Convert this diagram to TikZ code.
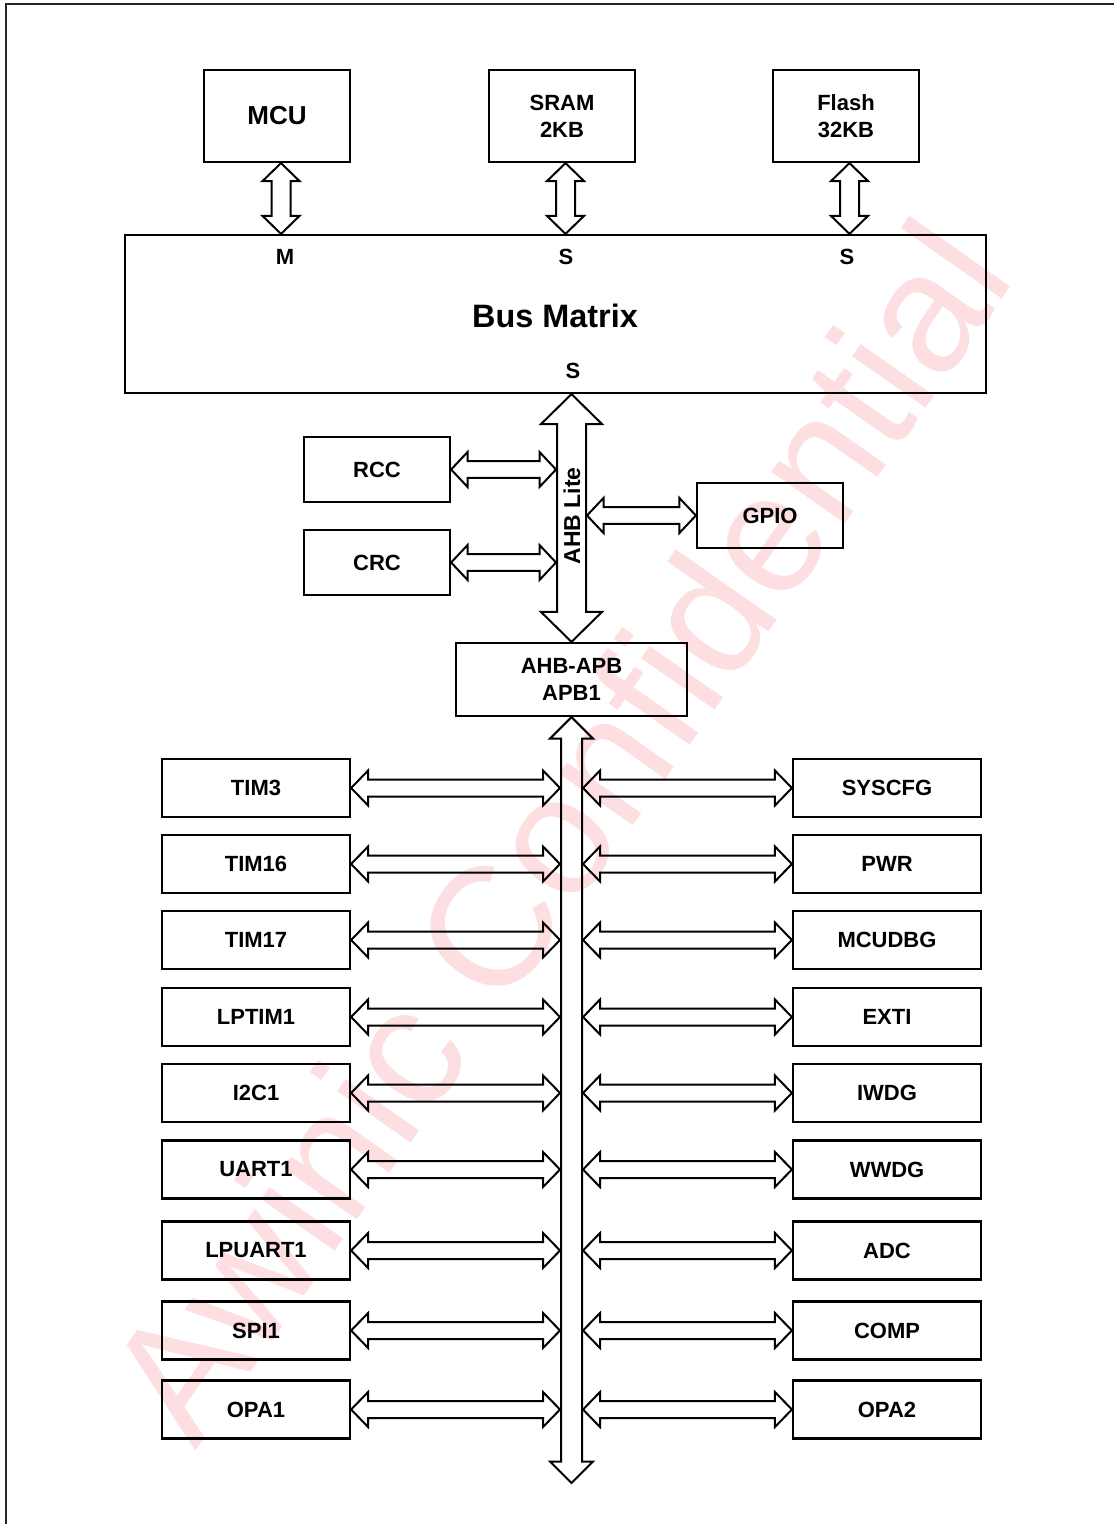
\documentclass[tikz,border=0pt]{standalone}
\usepackage{fontspec}
\setmainfont{Liberation Sans}
\usetikzlibrary{calc}
\definecolor{wmpink}{RGB}{253,223,225}

% Hollow double-headed bus arrow, horizontal: left tip, right tip,
% half shaft width, half head width, head length
\newcommand\hfat[5]{%
  \draw[fat] (#1) -- ++(#5,-#4) -- ++(0,#4-#3) -- ($(#2)+(-#5,-#3)$)
    -- ++(0,#3-#4) -- (#2) -- ++(-#5,#4) -- ++(0,#3-#4)
    -- ($(#1)+(#5,#3)$) -- ++(0,#4-#3) -- cycle;}
% Same, vertical: top tip, bottom tip, ...
\newcommand\vfat[5]{%
  \draw[fat] (#1) -- ++(-#4,#5) -- ++(#4-#3,0) -- ($(#2)+(-#3,-#5)$)
    -- ++(#3-#4,0) -- (#2) -- ++(#4,-#5) -- ++(#3-#4,0)
    -- ($(#1)+(#3,#5)$) -- ++(#4-#3,0) -- cycle;}

\begin{document}
\begin{tikzpicture}[x=0.5pt,y=-0.5pt,
  fat/.style={draw=black, line width=1pt, line join=miter},
  box/.style={draw=black, line width=1.1pt, inner sep=0pt, align=center,
    font=\bfseries\fontsize{11}{13.5}\selectfont},
  topbox/.style={box, minimum width=73pt, minimum height=46pt},
  midbox/.style={box, minimum width=73pt, minimum height=32.5pt},
  pbox/.style={box, minimum width=94pt, minimum height=29pt},
  port/.style={inner sep=0pt, font=\bfseries\fontsize{11}{13}\selectfont}]
\useasboundingbox (0,0) rectangle (1113,1524);

% watermark
\node[rotate=55, anchor=base west, inner sep=0pt, text=wmpink,
  font=\fontsize{85}{100}\selectfont] (wm) at (195,1452) {Awinic Confidential};

% page frame
\draw[line width=1pt, black!85] (6,4) rectangle (1140,1560);

% masters and memories
\node[topbox, font=\bfseries\fontsize{13}{15}\selectfont] (mcu) at (277,116) {MCU};
\node[topbox] (sram) at (562,116) {SRAM\\2KB};
\node[topbox] (flash) at (846,116) {Flash\\32KB};

% bus matrix
\node[box, minimum width=430.5pt, minimum height=79pt] (bm) at (555.5,314) {};
\node[inner sep=0pt, font=\bfseries\fontsize{16.2}{18}\selectfont] (bmlabel) at (555,316) {Bus Matrix};
\node[port] (pm) at (285,257) {M};
\node[port] (ps1) at (566,257) {S};
\node[port] (ps2) at (847,257) {S};
\node[port] (ps3) at (573,371) {S};

\coordinate (mcuA) at ($(mcu.south)+(4,0)$);
\coordinate (sramA) at ($(sram.south)+(3.5,0)$);
\coordinate (flashA) at ($(flash.south)+(3.5,0)$);
\vfat{mcuA}{mcuA |- bm.north}{9.5}{18.5}{18}
\vfat{sramA}{sramA |- bm.north}{9.5}{18.5}{18}
\vfat{flashA}{flashA |- bm.north}{9.5}{18.5}{18}

% AHB side
\node[midbox] (rcc) at (377,469.5) {RCC};
\node[midbox] (crc) at (377,562.5) {CRC};
\node[midbox] (gpio) at (770,515.5) {GPIO};
\node[box, minimum width=115.5pt, minimum height=36.5pt] (apb) at (571.5,679.5) {AHB-APB\\APB1};

\coordinate (ahbtop) at (bm.south -| apb.north);
\vfat{ahbtop}{apb.north}{14.5}{30.5}{30}
\node[rotate=90, inner sep=0pt, font=\bfseries\fontsize{11.5}{13}\selectfont] (ahblbl) at (572,516) {AHB Lite};

\coordinate (ahbL) at (556,0);
\coordinate (ahbR) at (587,0);
\hfat{rcc.east}{ahbL |- rcc.east}{8.3}{17.5}{16.5}
\hfat{crc.east}{ahbL |- crc.east}{8.3}{17.5}{16.5}
\hfat{ahbR |- gpio.west}{gpio.west}{8.3}{17.5}{16.5}

% APB1 bus
\coordinate (apbend) at (571.5,1483);
\vfat{apb.south}{apbend}{10.5}{21.5}{21.5}
\coordinate (apbL) at (560,0);
\coordinate (apbR) at (583,0);

% APB1 peripherals
\foreach \yy/\lname/\rname [count=\i] in {
    788/TIM3/SYSCFG, 864/TIM16/PWR, 940/TIM17/MCUDBG,
    1017/LPTIM1/EXTI, 1093/I2C1/IWDG, 1169.5/UART1/WWDG,
    1250.5/LPUART1/ADC, 1330.5/SPI1/COMP, 1409.5/OPA1/OPA2} {
  \node[pbox] (L\i) at (256,\yy) {\lname};
  \node[pbox] (R\i) at (887,\yy) {\rname};
  \hfat{L\i.east}{apbL |- L\i.east}{8.5}{17.5}{17}
  \hfat{apbR |- R\i.west}{R\i.west}{8.5}{17.5}{17}
}
\end{tikzpicture}
\end{document}
